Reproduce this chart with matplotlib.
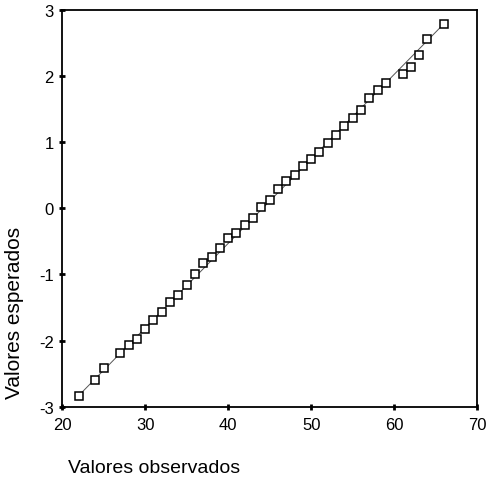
import matplotlib
matplotlib.use('Agg')
import matplotlib.pyplot as plt

plt.rcParams['font.family'] = ['Liberation Sans', 'DejaVu Sans']
plt.rcParams['axes.unicode_minus'] = False

# observed values vs expected normal values
observados = [22, 24, 25, 27, 28, 29, 30, 31, 32, 33, 34, 35, 36, 37, 38, 39, 40,
              41, 42, 43, 44, 45, 46, 47, 48, 49, 50, 51, 52, 53, 54, 55, 56, 57,
              58, 59, 61, 62, 63, 64, 66]
esperados = [-2.83, -2.59, -2.41, -2.19, -2.07, -1.98, -1.82, -1.69, -1.56, -1.42,
             -1.31, -1.16, -1.00, -0.83, -0.73, -0.60, -0.45, -0.37, -0.26, -0.14,
             0.02, 0.12, 0.29, 0.41, 0.51, 0.64, 0.74, 0.85, 0.98, 1.11, 1.25,
             1.37, 1.49, 1.66, 1.79, 1.90, 2.03, 2.13, 2.32, 2.56, 2.79]
ref_x = [22, 66]
ref_y = [-2.83, 2.79]

fig = plt.figure(figsize=(4.93, 4.89), dpi=100)
ax = fig.add_axes([0.126, 0.166, 0.842, 0.812])

ax.plot(ref_x, ref_y, color='#555555', linewidth=0.7, zorder=1)
ax.plot(observados, esperados, linestyle='none', marker='s', markersize=5.5,
        markerfacecolor='white', markeredgecolor='black', markeredgewidth=1.1, zorder=2)

ax.set_xlim(20, 70)
ax.set_ylim(-3, 3)
ax.set_xticks([20, 30, 40, 50, 60, 70])
ax.set_yticks([-3, -2, -1, 0, 1, 2, 3])
ax.tick_params(direction='inout', length=4, width=2, labelsize=12, pad=4)
ax.tick_params(axis='x', pad=5)
for s in ax.spines.values():
    s.set_linewidth(1.3)

fig.text(0.138, 0.025, 'Valores observados', fontsize=14, ha='left', va='bottom')
fig.text(0.03, 0.36, 'Valores esperados', fontsize=15, rotation=90, ha='center', va='center')

fig.savefig('out.png', dpi=100)
